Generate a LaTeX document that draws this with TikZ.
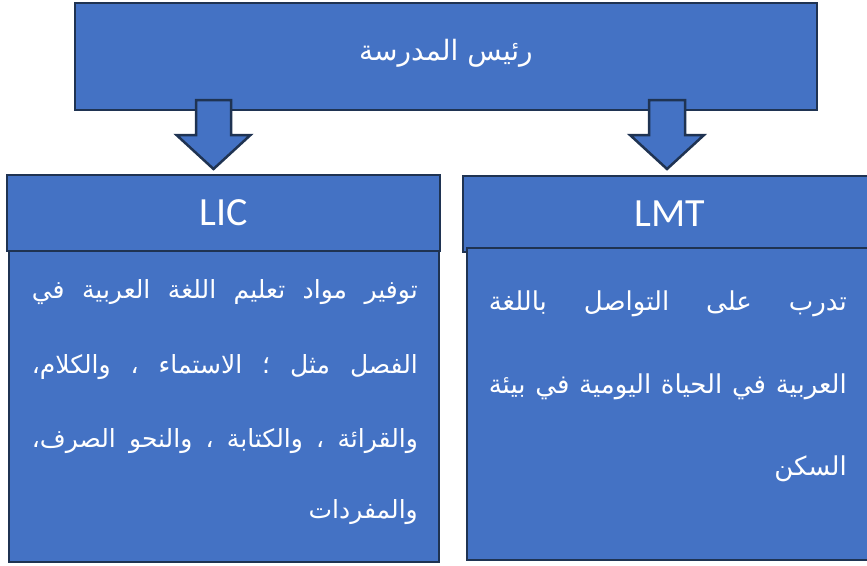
\documentclass[tikz,border=0pt]{standalone}
\usepackage{fontspec}
\setmainfont{Carlito}
\newfontfamily\arabicfont[Script=Arabic]{DejaVu Sans}
\TeXXeTstate=1
\definecolor{ofblue}{HTML}{4472C4}
\definecolor{navy}{HTML}{1F3352}
\tikzset{
  boxst/.style={draw=navy, fill=ofblue, line width=2.5pt, inner sep=0, rectangle},
  arrowst/.style={draw=navy, fill=ofblue, line width=2.5pt, line join=miter},
  txt/.style={text=white, inner sep=0},
}
\begin{document}
\begin{tikzpicture}[x=1pt,y=-1pt]
\useasboundingbox (0,0) rectangle (867,565);
\clip (0,0) rectangle (867,565);
% top box
\node[boxst, minimum width=742pt, minimum height=107pt] (top) at (446,56.5) {};
\node[txt, font=\arabicfont\fontsize{28}{32}\selectfont] (toptext) at (446,53) {\beginR رئيس المدرسة\endR};
% arrows
\coordinate (tipL) at (213.5,169);
\coordinate (tipR) at (667,169);
\draw[arrowst] (tipL) -- ++(-37,-34) -- ++(19.5,0) -- ++(0,-35) -- ++(35,0) -- ++(0,35) -- ++(19.5,0) -- cycle;
\draw[arrowst] (tipR) -- ++(-37,-34) -- ++(19,0) -- ++(0,-35) -- ++(36,0) -- ++(0,35) -- ++(19,0) -- cycle;
% LIC
\node[boxst, minimum width=433pt, minimum height=76pt] (lichead) at (223.5,213) {};
\node[boxst, minimum width=430pt, minimum height=311pt] (licbody) at (224,406.5) {};
\node[txt, font=\fontsize{40}{44}\selectfont] (lictext) at (lichead.center) {LIC};
\begin{scope}[every node/.style={txt, anchor=base east, font=\arabicfont\fontsize{25}{29}\selectfont}]
\node (lic1) at (418,298) {\hbox to 386pt{\beginR توفير مواد تعليم اللغة العربية في\endR}};
\node (lic2) at (418,373) {\hbox to 386pt{\beginR الفصل مثل ؛ الاستماء ، والكلام،\endR}};
\node (lic3) at (418,447) {\hbox to 386pt{\beginR والقرائة ، والكتابة ، والنحو الصرف،\endR}};
\node (lic4) at (418,518) {\beginR والمفردات\endR};
\end{scope}
% LMT
\node[boxst, minimum width=414pt, minimum height=76pt] (lmthead) at (670,214) {};
\node[boxst, minimum width=410pt, minimum height=312pt] (lmtbody) at (672,404) {};
\node[txt, font=\fontsize{40}{44}\selectfont] (lmttext) at (lmthead.center) {LMT};
\begin{scope}[every node/.style={txt, anchor=base east, font=\arabicfont\fontsize{26}{30}\selectfont}]
\node (lmt1) at (847,310) {\hbox to 358pt{\beginR تدرب على التواصل باللغة\endR}};
\node (lmt2) at (847,393) {\hbox to 358pt{\beginR العربية في الحياة اليومية في بيئة\endR}};
\node (lmt3) at (847,475) {\beginR السكن\endR};
\end{scope}
\end{tikzpicture}
\end{document}
